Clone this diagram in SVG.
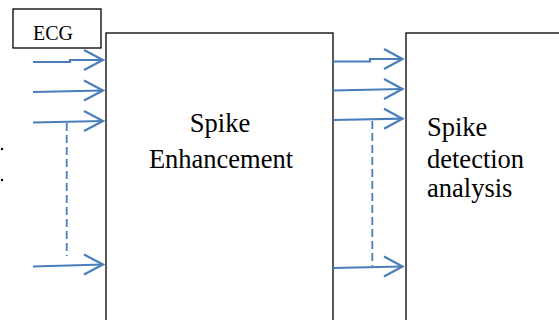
<svg xmlns="http://www.w3.org/2000/svg" width="559" height="320" viewBox="0 0 559 320">
<style>
.box{fill:#fff;stroke:#000;stroke-width:1.3}
.t{fill:#000;font-family:"Liberation Serif","Times New Roman","DejaVu Serif",serif}
.a{fill:none;stroke:#4a7ebb;stroke-width:2.2;stroke-linejoin:miter}
.d{fill:none;stroke:#4a7ebb;stroke-width:1.8;stroke-dasharray:8,4}
</style>
<rect width="559" height="320" fill="#fff"/>
<g id="ecg">
<rect class="box" x="13" y="9" width="88" height="39"/>
<text class="t" x="53" y="40" font-size="20" text-anchor="middle">ECG</text>
</g>
<g id="enh">
<rect class="box" x="106" y="33" width="227" height="300"/>
<text class="t" x="220" y="132" font-size="26.5" text-anchor="middle">Spike</text>
<text class="t" x="221" y="168" font-size="26.5" text-anchor="middle">Enhancement</text>
</g>
<g id="det">
<rect class="box" x="406" y="33" width="170" height="300"/>
<text class="t" x="427" y="136" font-size="26.5">Spike</text>
<text class="t" x="427" y="168" font-size="26.5">detection</text>
<text class="t" x="427" y="197" font-size="26.5">analysis</text>
</g>
<g id="dots">
<circle cx="2" cy="149" r="1.2" fill="#000"/>
<circle cx="2" cy="180" r="1.2" fill="#000"/>
</g>
<g id="connectors">
<path class="a" d="M33 62 H70 V60 H103"/>
<path class="a" d="M84 50 L103 60 L84 70"/>
<path class="a" d="M33 92 L103 90.5"/>
<path class="a" d="M84 80.5 L103 90.5 L84 100.5"/>
<path class="a" d="M33 122.5 L103 121"/>
<path class="a" d="M84 111 L103 121 L84 131"/>
<path class="a" d="M33 266.5 L103 264.5"/>
<path class="a" d="M84 254.5 L103 264.5 L84 274.5"/>
<path class="d" d="M66.7 123 V256"/>
<path class="a" d="M333 61.5 H370 V59 H402.5"/>
<path class="a" d="M384 49 L402.5 59 L384 69"/>
<path class="a" d="M333 90.5 L402.5 89"/>
<path class="a" d="M384 79 L402.5 89 L384 99"/>
<path class="a" d="M333 120 L402.5 118.7"/>
<path class="a" d="M384 108.7 L402.5 118.7 L384 128.7"/>
<path class="a" d="M333 268 L402.5 266.5"/>
<path class="a" d="M384 256.5 L402.5 266.5 L384 276.5"/>
<path class="d" d="M372.3 121 V266"/>
</g>
</svg>
